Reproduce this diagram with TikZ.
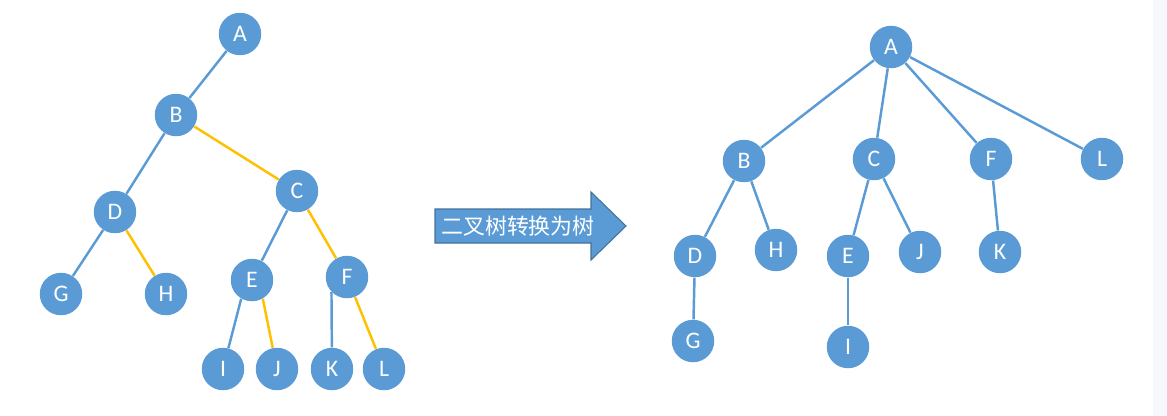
\documentclass[tikz,border=0pt]{standalone}
\usepackage{fontspec}
\setmainfont{Carlito}
\newfontfamily\cjk{Noto Sans CJK SC}
\usetikzlibrary{positioning}
\definecolor{treeBlue}{RGB}{91, 155, 213}
\definecolor{treeEdge}{RGB}{91, 155, 213}
\definecolor{treeGold}{RGB}{255, 192, 0}
\definecolor{arrowLine}{RGB}{65, 113, 156}
\definecolor{sideGray}{RGB}{246, 248, 252}

\begin{document}
\begin{tikzpicture}[x=0.02cm, y=-0.02cm,
        vtx/.style={circle, fill=treeBlue, minimum size=0.85cm, inner sep=0pt, text=white, font=\fontsize{13.5}{14}\selectfont},
        kid/.style={treeEdge, line width=1.4pt},
        sib/.style={treeGold, line width=1.4pt},
        bigarrow/.style={fill=treeBlue, draw=arrowLine, line width=0.6pt},
        arrowtxt/.style={text=white, font=\cjk\fontsize{12.5}{13}\selectfont, inner sep=0pt}
      ]
        \useasboundingbox (0,0) rectangle (1167,416);
        \fill[sideGray] (1153,0) rectangle (1167,416);

        % binary tree
        \node[vtx] (lA) at (240,34) {A};
        \node[vtx] (lB) at (176,115) {B};
        \node[vtx] (lC) at (297,191) {C};
        \node[vtx] (lD) at (115,212) {D};
        \node[vtx] (lG) at (61,294) {G};
        \node[vtx] (lH) at (166,294) {H};
        \node[vtx] (lE) at (252,280) {E};
        \node[vtx] (lF) at (347,277) {F};
        \node[vtx] (lI) at (223,369) {I};
        \node[vtx] (lJ) at (277,369) {J};
        \node[vtx] (lK) at (332,369) {K};
        \node[vtx] (lL) at (384,369) {L};
        \draw[kid] (lA) -- (lB);
        \draw[kid] (lB) -- (lD);
        \draw[kid] (lD) -- (lG);
        \draw[kid] (lC) -- (lE);
        \draw[kid] (lE.240) -- (lI);
        \draw[kid] (lF.224) -- (lK);
        \draw[sib] (lB) -- (lC);
        \draw[sib] (lD) -- (lH);
        \draw[sib] (lC) -- (lF);
        \draw[sib] (lE.300) -- (lJ);
        \draw[sib] (lF) -- (lL);

        % conversion arrow
        \draw[bigarrow] (435,209) -- (591,209) -- (591,192) -- (626,226) -- (591,260) -- (591,243) -- (435,243) -- cycle;
        \node[arrowtxt] (conv) at (518,226) {二叉树转换为树};

        % tree
        \node[vtx] (rA) at (891,47) {A};
        \node[vtx] (rB) at (744,161) {B};
        \node[vtx] (rC) at (874,159) {C};
        \node[vtx] (rF) at (991,159) {F};
        \node[vtx] (rL) at (1102,159) {L};
        \node[vtx] (rD) at (695,256) {D};
        \node[vtx] (rH) at (776,250) {H};
        \node[vtx] (rE) at (848,256) {E};
        \node[vtx] (rJ) at (920,252) {J};
        \node[vtx] (rK) at (1000,252) {K};
        \node[vtx] (rG) at (693,341) {G};
        \node[vtx] (rI) at (848,347) {I};
        \foreach \p/\c in {A/B, A/C, A/F, A/L, B/D, B/H, C/E, C/J, F/K, D/G, E/I}
          \draw[kid] (r\p) -- (r\c);
      \end{tikzpicture}
\end{document}
